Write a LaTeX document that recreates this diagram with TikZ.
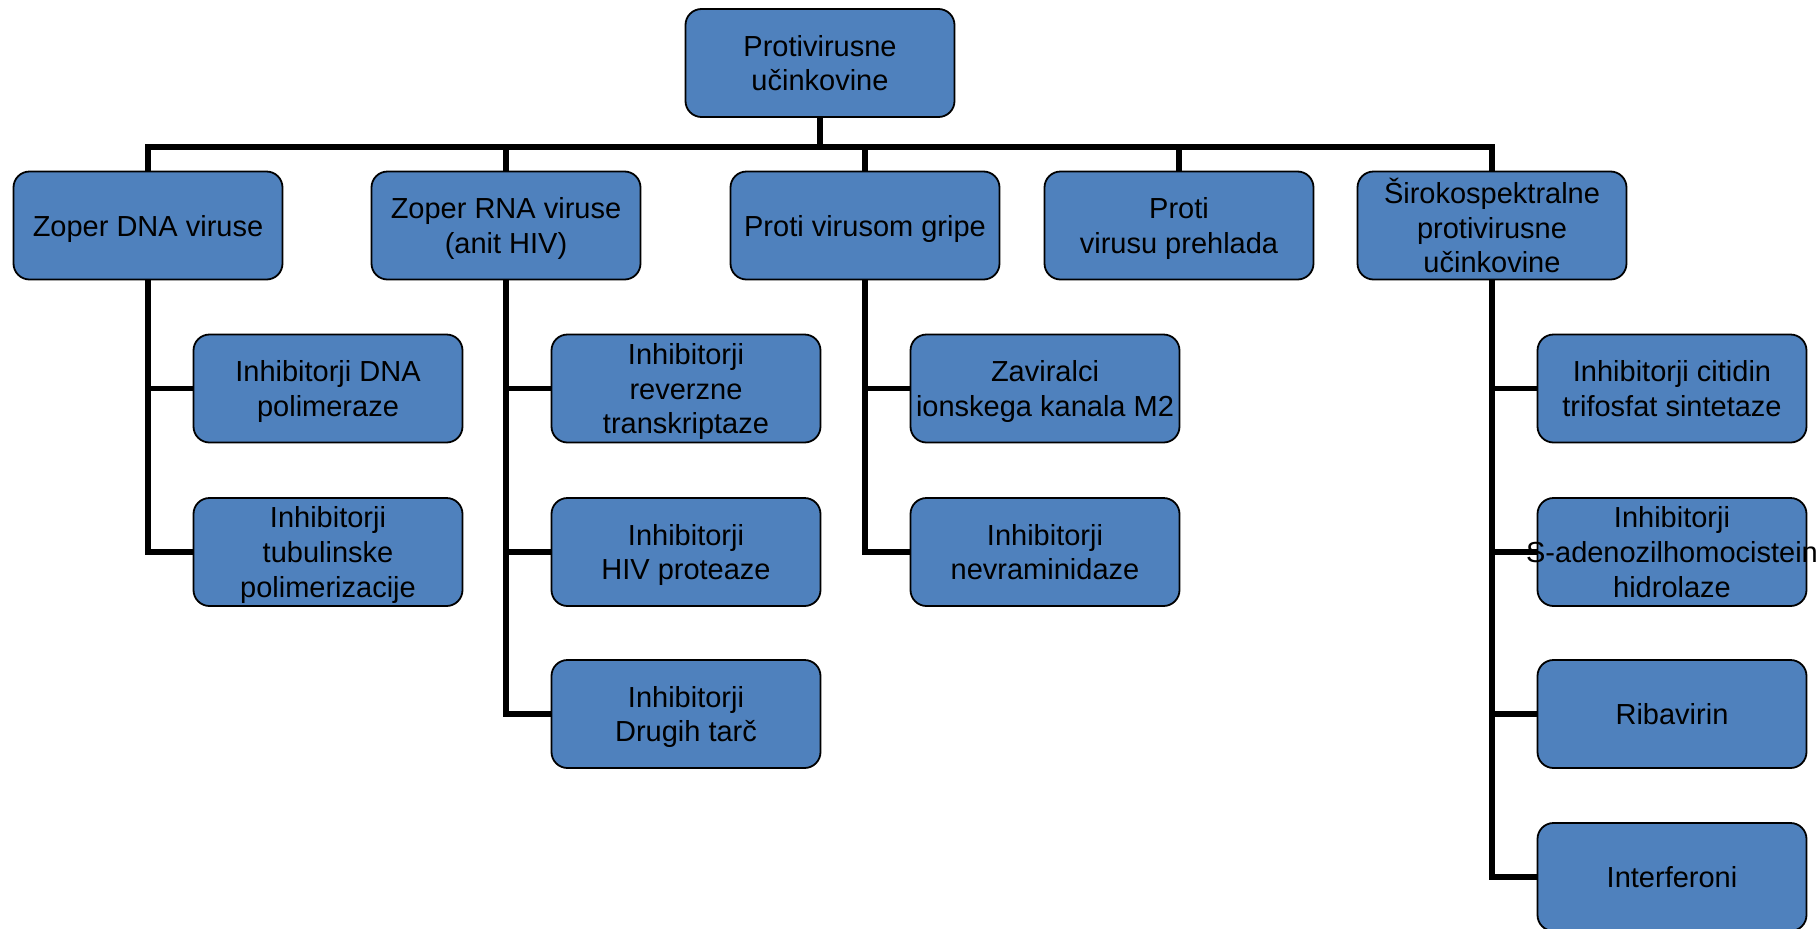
\documentclass[tikz,border=0pt]{standalone}
\usepackage{fontspec}
\setmainfont{Liberation Sans}
\usepackage{tikz}
\usetikzlibrary{calc}
\definecolor{boxblue}{HTML}{4F81BD}

\begin{document}
\begin{tikzpicture}[x=0.5bp,y=-0.5bp,
  box/.style={draw=black, line width=0.9bp, fill=boxblue, rounded corners=8bp,
    minimum width=134.5bp, minimum height=54bp, inner sep=2bp, align=center,
    text depth=0pt, font=\fontsize{14.5bp}{17.3bp}\selectfont},
  link/.style={line width=2.6bp}]
\useasboundingbox (0,0) rectangle (1818,928);

%root
\node[box] (root) at (820,63) {Protivirusne\\učinkovine};
\coordinate (bar) at (820,147);

%groups
\node[box] (dna) at (148,225.5) {Zoper DNA viruse};
\node[box] (rna) at (506,225.5) {Zoper RNA viruse\\(anit HIV)};
\node[box] (gripa) at (865,225.5) {Proti virusom gripe};
\node[box] (prehlad) at (1179,225.5) {Proti\\virusu prehlada};
\node[box] (sir) at (1492,225.5) {Širokospektralne\\protivirusne\\učinkovine};

%DNA
\node[box] (dnapol) at (328,388.5) {Inhibitorji DNA\\polimeraze};
\node[box] (tub) at (328,552) {Inhibitorji\\tubulinske\\polimerizacije};

%RNA
\node[box] (rt) at (686,388.5) {Inhibitorji\\reverzne\\transkriptaze};
\node[box] (prot) at (686,552) {Inhibitorji\\HIV proteaze};
\node[box] (tarce) at (686,714) {Inhibitorji\\Drugih tarč};

%gripa
\node[box] (mdva) at (1045,388.5) {Zaviralci\\ionskega kanala M2};
\node[box] (nevr) at (1045,552) {Inhibitorji\\nevraminidaze};

%siroki
\node[box] (ctp) at (1672,388.5) {Inhibitorji citidin\\trifosfat sintetaze};
\node[box] (sah) at (1672,552) {Inhibitorji\\\makebox[0pt]{S-adenozilhomocistein}\\hidrolaze};
\node[box] (riba) at (1672,714) {Ribavirin};
\node[box] (inter) at (1672,877) {Interferoni};

%lines
\draw[link] (root.south) -- (root.south |- bar);
\draw[link] (dna.north) -- (dna.north |- bar) -- (sir.north |- bar) -- (sir.north);
\draw[link] (rna.north |- bar) -- (rna.north);
\draw[link] (gripa.north |- bar) -- (gripa.north);
\draw[link] (prehlad.north |- bar) -- (prehlad.north);

\draw[link] (dna.south) |- (dnapol.west);
\draw[link] (dna.south) |- (tub.west);
\draw[link] (rna.south) |- (rt.west);
\draw[link] (rna.south) |- (prot.west);
\draw[link] (rna.south) |- (tarce.west);
\draw[link] (gripa.south) |- (mdva.west);
\draw[link] (gripa.south) |- (nevr.west);
\draw[link] (sir.south) |- (ctp.west);
\draw[link] (sir.south) |- (sah.west);
\draw[link] (sir.south) |- (riba.west);
\draw[link] (sir.south) |- (inter.west);

\end{tikzpicture}
\end{document}
